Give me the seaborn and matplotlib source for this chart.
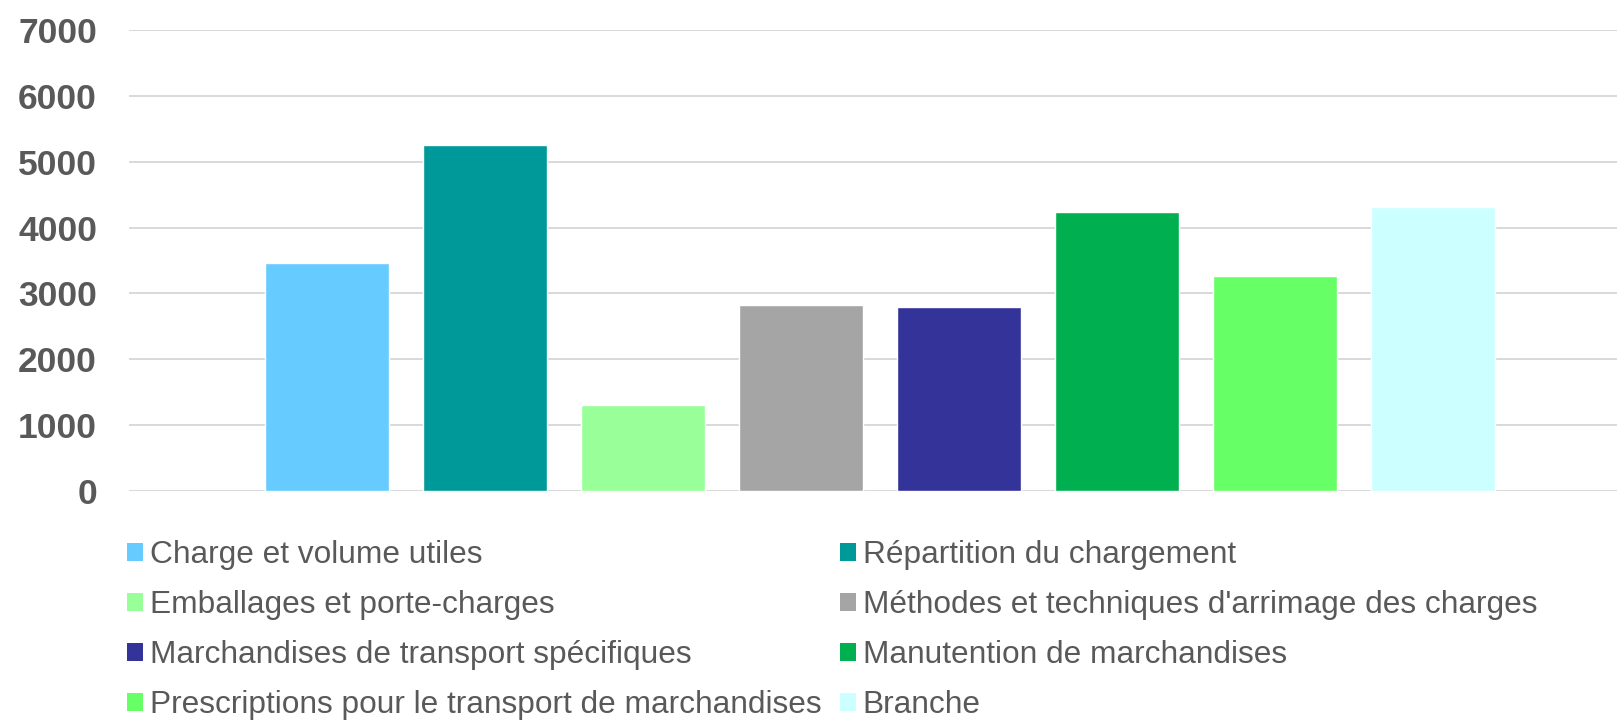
import matplotlib
matplotlib.use("Agg")
import matplotlib.pyplot as plt
from matplotlib.patches import Patch
import seaborn as sns
import pandas as pd

categories = [
    "Charge et volume utiles",
    "Répartition du chargement",
    "Emballages et porte-charges",
    "Méthodes et techniques d'arrimage des charges",
    "Marchandises de transport spécifiques",
    "Manutention de marchandises",
    "Prescriptions pour le transport de marchandises",
    "Branche",
]
values = [3460, 5250, 1310, 2830, 2800, 4230, 3270, 4310]
colors = ["#66CCFF", "#009999", "#99FF99", "#A5A5A5",
          "#333399", "#00B050", "#66FF66", "#CCFFFF"]
y_ticks = [0, 1000, 2000, 3000, 4000, 5000, 6000, 7000]

sns.set_theme(style="white")
plt.rcParams["font.family"] = ["Liberation Sans", "DejaVu Sans"]

text_color = "#595959"
grid_color = "#D9D9D9"

fig = plt.figure(figsize=(16.17, 7.2), dpi=100)
ax = fig.add_axes([129 / 1617, 1 - 491 / 720, 1 - 129 / 1617, (491 - 30) / 720])

df = pd.DataFrame({"category": categories, "value": values})
sns.barplot(data=df, x="category", y="value", hue="category",
            palette=colors, order=categories, hue_order=categories,
            width=0.79, saturation=1, legend=False, ax=ax, zorder=3)

ax.set_xlim(-1.253, 8.165)
ax.set_ylim(0, 7000)
ax.set_yticks(y_ticks)
ax.set_yticklabels([str(t) for t in y_ticks], fontsize=25.5,
                   fontweight="bold", color=text_color)
ax.tick_params(axis="y", length=0, pad=23)
ax.set_xticks([])
ax.set_xlabel("")
ax.set_ylabel("")
for s in ax.spines.values():
    s.set_visible(False)
for t in y_ticks:
    ax.axhline(t, color=grid_color, lw=1.4, zorder=1)

# legend laid out row by row in two columns
handles = [Patch(facecolor=c, edgecolor="none") for c in colors]
order = [0, 2, 4, 6, 1, 3, 5, 7]
leg = fig.legend([handles[i] for i in order], [categories[i] for i in order],
                 ncol=2, loc="upper left",
                 bbox_to_anchor=(127 / 1617, 1 - 540 / 720),
                 frameon=False, fontsize=22.8, labelcolor=text_color,
                 handlelength=0.5, handleheight=0.5, handletextpad=0.22,
                 columnspacing=0.58, labelspacing=0.63,
                 borderpad=0, borderaxespad=0)

fig.savefig("out.png", dpi=100)
